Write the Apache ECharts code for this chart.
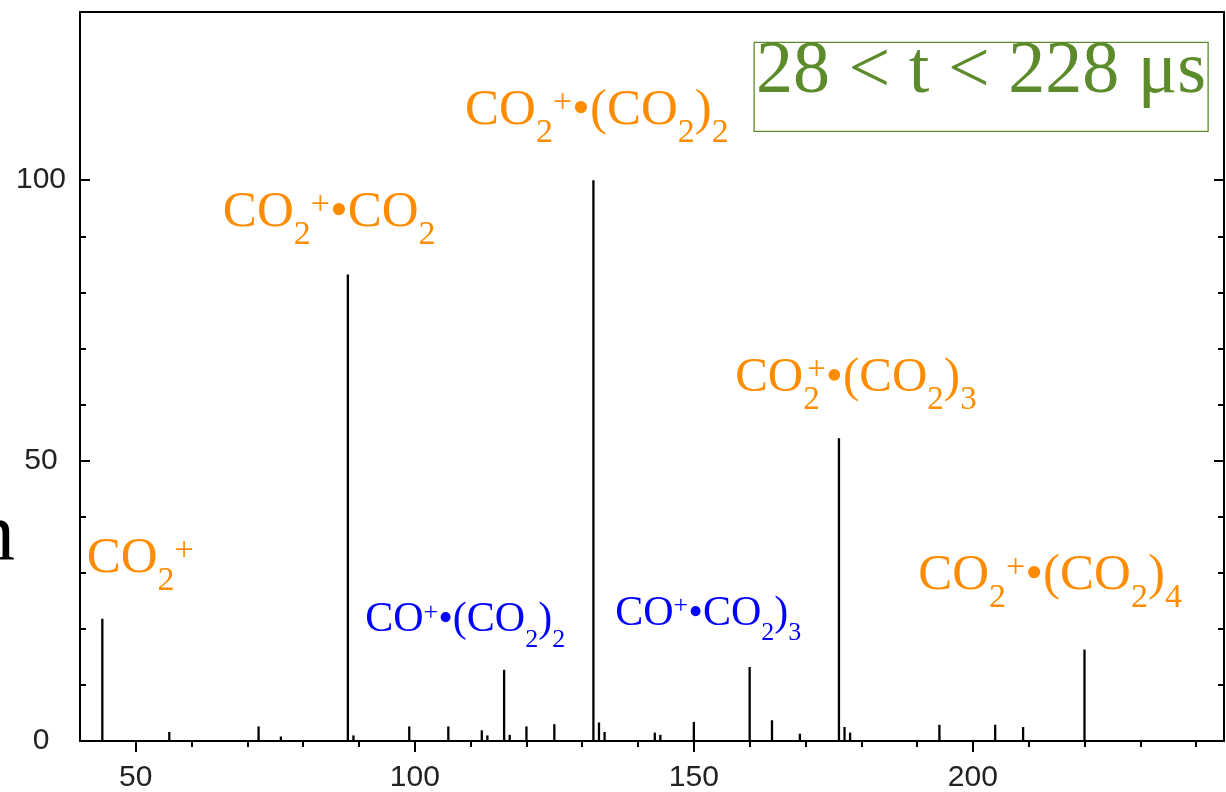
<!DOCTYPE html>
<html>
<head>
<meta charset="utf-8">
<script src="https://cdn.jsdelivr.net/npm/echarts@6/dist/echarts.min.js"></script>
<style>
  html, body { margin: 0; padding: 0; background: #fff; }
  #chart { width: 1226px; height: 792px; }
</style>
</head>
<body>
<div id="chart"></div>
<script>
// Cluster-ion mass spectrum: peak masses (amu) and relative intensities (%)
const masses = [44, 56, 72, 76, 88, 89, 99, 106, 112, 113, 116, 117, 120, 125, 132, 133, 134,
                143, 144, 150, 160, 164, 169, 176, 177, 178, 194, 204, 209, 220];
const intensities = [21.8, 1.6, 2.6, 0.8, 83.2, 1.0, 2.6, 2.6, 1.9, 1.0, 12.7, 1.1, 2.6, 3.0, 100, 3.3, 1.6,
                     1.5, 1.1, 3.4, 13.2, 3.7, 1.3, 54.0, 2.5, 1.5, 2.9, 2.9, 2.5, 16.3];

// Axis ticks and labels
const xMajorTicks = [50, 100, 150, 200];
const xMinorTicks = [60, 70, 80, 90, 110, 120, 130, 140, 160, 170, 180, 190, 210, 220, 230, 240];
const yMajorTicks = [0, 50, 100];
const yMinorTicks = [10, 20, 30, 40, 60, 70, 80, 90];

// Ion assignments: pieces of text, 'b' = base, 'd' = subscript, 'u' = superscript,
// 'U' = superscript stacked over the preceding subscript
const parentIons = [
  [['CO', 'b'], ['2', 'd'], ['+', 'u']],
  [['CO', 'b'], ['2', 'd'], ['+', 'u'], ['•CO', 'b'], ['2', 'd']],
  [['CO', 'b'], ['2', 'd'], ['+', 'u'], ['•(CO', 'b'], ['2', 'd'], [')', 'b'], ['2', 'd']],
  [['CO', 'b'], ['2', 'd'], ['+', 'U'], ['•(CO', 'b'], ['2', 'd'], [')', 'b'], ['3', 'd']],
  [['CO', 'b'], ['2', 'd'], ['+', 'u'], ['•(CO', 'b'], ['2', 'd'], [')', 'b'], ['4', 'd']]
];
const coIons = [
  [['CO', 'b'], ['+', 'u'], ['•(CO', 'b'], ['2', 'd'], [')', 'b'], ['2', 'd']],
  [['CO', 'b'], ['+', 'u'], ['•CO', 'b'], ['2', 'd'], [')', 'b'], ['3', 'd']]
];
const timeWindow = '28 < t < 228 μs';
const sideGlyph = 'n';

// Layout: where each annotation sits, in data units (left edge, baseline)
const layout = {
  parentAt: [[41.2, 29.9], [65.6, 91.6], [109.0, 109.8], [157.4, 62.2], [190.2, 26.9]],
  coAt: [[91.1, 19.4], [135.9, 20.6]],
  boxAt: [160.8, 124.6],
  glyphAt: [21.0, 32.2]
};

const SERIF = '"Liberation Serif", "Times New Roman", serif';
const SANS = '"Liberation Sans", Arial, sans-serif';
const MID = 0.28; // canvas "middle" baseline offset, in em
const orangeStyle = { color: '#ff8c00', size: 51, small: 34, subShift: 17.5, supShift: -13 };
const orangeCompact = { color: '#ff8c00', size: 49, small: 33, subShift: 17, supShift: -13 };
const blueStyle = { color: '#0000ff', size: 42, small: 26, subShift: 15, supShift: -12 };
const parentStyles = [orangeStyle, orangeStyle, orangeStyle, orangeCompact, orangeStyle];
const green = '#5b8b2b';
const ink = '#000';

const chart = echarts.init(document.getElementById('chart'), null, { renderer: 'canvas' });

const axisLine = { show: true, onZero: false, lineStyle: { color: ink, width: 2 } };
const tickLine = { color: ink, width: 2 };
const noSplit = { show: false };

const option = {
  animation: false,
  backgroundColor: '#fff',
  grid: { left: 80, right: 2, top: 12, bottom: 51, containLabel: false, outerBoundsMode: 'none' },
  xAxis: [
    {
      type: 'value', position: 'bottom', min: 40, max: 245,
      axisLine: axisLine,
      axisTick: { show: true, inside: false, length: 11, lineStyle: tickLine, customValues: xMajorTicks },
      axisLabel: { customValues: xMajorTicks, margin: 22, fontSize: 30, lineHeight: 30,
                   fontFamily: SANS, color: '#222' },
      splitLine: noSplit
    },
    {
      type: 'value', position: 'bottom', min: 40, max: 245,
      axisLine: { show: false, onZero: false },
      axisTick: { show: true, inside: false, length: 6, lineStyle: tickLine, customValues: xMinorTicks },
      axisLabel: { show: false }, splitLine: noSplit
    },
    {
      type: 'value', position: 'top', min: 40, max: 245,
      axisLine: axisLine, axisTick: { show: false }, axisLabel: { show: false }, splitLine: noSplit
    }
  ],
  yAxis: [
    {
      type: 'value', position: 'left', min: 0, max: 130,
      axisLine: axisLine,
      axisTick: { show: true, inside: true, length: 10, lineStyle: tickLine, customValues: yMajorTicks },
      axisLabel: { customValues: yMajorTicks, align: 'center', margin: 39, fontSize: 30,
                   fontFamily: SANS, color: '#222' },
      splitLine: noSplit
    },
    {
      type: 'value', position: 'left', min: 0, max: 130,
      axisLine: { show: false, onZero: false },
      axisTick: { show: true, inside: true, length: 6, lineStyle: tickLine, customValues: yMinorTicks },
      axisLabel: { show: false }, splitLine: noSplit
    },
    {
      type: 'value', position: 'right', min: 0, max: 130,
      axisLine: axisLine,
      axisTick: { show: true, inside: true, length: 10, lineStyle: tickLine, customValues: yMajorTicks },
      axisLabel: { show: false }, splitLine: noSplit
    },
    {
      type: 'value', position: 'right', min: 0, max: 130,
      axisLine: { show: false, onZero: false },
      axisTick: { show: true, inside: true, length: 6, lineStyle: tickLine, customValues: yMinorTicks },
      axisLabel: { show: false }, splitLine: noSplit
    }
  ],
  series: [{
    type: 'custom',
    xAxisIndex: 0, yAxisIndex: 0,
    data: masses.map((m, i) => [m, intensities[i]]),
    renderItem: function (params, api) {
      const m = api.value(0);
      const top = api.coord([m, api.value(1)]);
      const base = api.coord([m, 0]);
      return {
        type: 'line',
        shape: { x1: base[0], y1: base[1], x2: top[0], y2: top[1] },
        style: { stroke: ink, lineWidth: 2.3 }
      };
    }
  }]
};
chart.setOption(option);

// Text measurement for laying out sub/superscript pieces
const measureCtx = document.createElement('canvas').getContext('2d');
function measure(text, size) {
  measureCtx.font = size + 'px ' + SERIF;
  return measureCtx.measureText(text).width;
}

function toPixel(pt) {
  return chart.convertToPixel({ seriesIndex: 0 }, pt);
}

function formulaLabel(pieces, st, at) {
  const p = toPixel(at);
  let cursor = 0;
  let prevStart = 0, prevWidth = 0;
  const children = [];
  pieces.forEach(function (piece) {
    const text = piece[0], kind = piece[1];
    const size = kind === 'b' ? st.size : st.small;
    const shift = kind === 'd' ? st.subShift : ((kind === 'u' || kind === 'U') ? st.supShift : 0);
    const w = measure(text, size);
    let x = cursor;
    if (kind === 'U') {
      // stacked over the previous subscript
      x = prevStart + 4;
      cursor = Math.max(cursor, x + w);
    } else {
      cursor += w;
    }
    children.push({
      type: 'text', x: x, y: shift - MID * size,
      style: { text: text, fontSize: size, fontFamily: SERIF, fill: st.color,
               textAlign: 'left', textVerticalAlign: 'middle', align: 'left', verticalAlign: 'middle' }
    });
    prevStart = x; prevWidth = w;
  });
  return { type: 'group', x: p[0], y: p[1], children: children };
}

const graphics = [];
parentIons.forEach(function (pieces, i) { graphics.push(formulaLabel(pieces, parentStyles[i], layout.parentAt[i])); });
coIons.forEach(function (pieces, i) { graphics.push(formulaLabel(pieces, blueStyle, layout.coAt[i])); });

// Time-window caption in a thin framed box
const boxPx = toPixel(layout.boxAt);
const capSize = 74;
const capW = measure(timeWindow, capSize);
graphics.push({
  type: 'group', x: boxPx[0], y: boxPx[1],
  children: [
    { type: 'rect', shape: { x: 0, y: 0, width: capW + 4, height: 89 },
      style: { fill: 'none', stroke: green, lineWidth: 1.3 } },
    { type: 'text', x: 2, y: 51 - MID * capSize,
      style: { text: timeWindow, fontSize: capSize, fontFamily: SERIF, fill: green,
               textAlign: 'left', textVerticalAlign: 'middle', align: 'left', verticalAlign: 'middle' } }
  ]
});

// Partly hidden glyph at the left margin
const gPx = toPixel(layout.glyphAt);
graphics.push({
  type: 'text', x: gPx[0], y: gPx[1] - MID * 82,
  style: { text: sideGlyph, fontSize: 82, fontFamily: SERIF, fill: '#000',
           textAlign: 'left', textVerticalAlign: 'middle', align: 'left', verticalAlign: 'middle' }
});

chart.setOption({ graphic: graphics });
</script>
</body>
</html>
